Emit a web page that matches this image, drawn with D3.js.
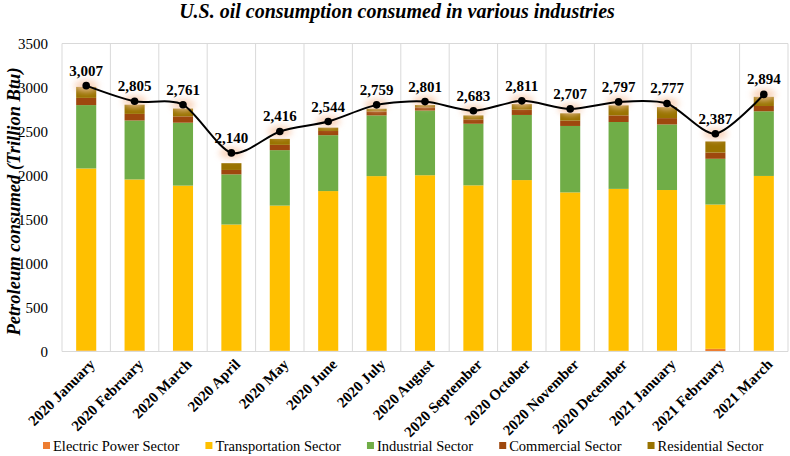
<!DOCTYPE html>
<html><head><meta charset="utf-8">
<script src="https://cdn.jsdelivr.net/npm/d3@7"></script>
<style>body{margin:0;background:#fff;} svg{display:block;} text{font-family:"Liberation Serif","DejaVu Serif",serif;}</style>
</head><body><svg id="c" width="790" height="456"></svg>
<script>
const categories = ["2020 January","2020 February","2020 March","2020 April","2020 May","2020 June","2020 July","2020 August","2020 September","2020 October","2020 November","2020 December","2021 January","2021 February","2021 March"];
const electric =       [10, 10, 10, 8, 8, 8, 8, 8, 8, 8, 8, 8, 10, 30, 10];
const transportation = [2070, 1945, 1875, 1435, 1650, 1815, 1985, 1995, 1880, 1940, 1800, 1840, 1825, 1640, 1985];
const industrial =     [720, 670, 715, 570, 630, 635, 690, 735, 700, 740, 755, 760, 745, 520, 735];
const commercial =     [82, 75, 72, 50, 60, 48, 45, 37, 50, 60, 60, 75, 72, 70, 60];
const residential =    [125, 105, 89, 77, 68, 38, 31, 26, 45, 63, 84, 114, 125, 127, 104];
const totals =         [3007, 2805, 2761, 2140, 2416, 2544, 2759, 2801, 2683, 2811, 2707, 2797, 2777, 2387, 2894];
const seriesNames = ["Electric Power Sector","Transportation Sector","Industrial Sector","Commercial Sector","Residential Sector"];
const seriesColors = ["#ED7D31","#FFC000","#70AD47","#9E480E","#997300"];
const yTicks = [0,500,1000,1500,2000,2500,3000,3500];

const FONT = "'Liberation Serif', 'DejaVu Serif', serif";
const svg = d3.select("#c");
const L = 62, R = 788, T = 43.5, B = 351.5;
const x = d3.scaleBand().domain(categories).range([L, R]).paddingInner(0.585).paddingOuter(0.2925);
const xc = d3.scaleBand().domain(categories).range([L, R]);
const y = d3.scaleLinear().domain([0, 3500]).range([B, T]);
const y2 = d3.scaleLinear().domain([-420, 3550]).range([B, T]);

// title
svg.append("text").attr("x", 397).attr("y", 18).attr("text-anchor","middle").attr("font-family", FONT)
  .style("font-size","20px").style("font-weight","bold").style("font-style","italic")
  .text("U.S. oil consumption consumed in various industries");

// gridlines
const g = svg.append("g");
g.selectAll("line.v").data(categories).join("line")
  .attr("x1", d => xc(d)).attr("x2", d => xc(d)).attr("y1", T).attr("y2", B)
  .attr("stroke", "#d9d9d9").attr("stroke-width", 1);
g.append("line").attr("x1", R).attr("x2", R).attr("y1", T).attr("y2", B).attr("stroke","#d9d9d9");
g.append("line").attr("x1", L).attr("x2", R).attr("y1", y(3500)).attr("y2", y(3500)).attr("stroke","#d9d9d9");

// y axis labels
svg.append("g").selectAll("text").data(yTicks).join("text").attr("font-family", FONT)
  .attr("x", 48).attr("y", d => y(d)).attr("dy","0.35em").attr("text-anchor","end")
  .style("font-size","15px").text(d => d);

svg.append("text").attr("transform", `translate(14,${(T+B)/2 + 4}) rotate(-90)`).attr("text-anchor","middle").attr("dy","0.35em").attr("font-family", FONT)
  .style("font-size","18.5px").style("font-weight","bold").style("font-style","italic")
  .text("Petroleum consumed (Trillion Btu)");

// stacked bars
const rows = categories.map((c,i) => ({cat:c, s0:electric[i], s1:transportation[i], s2:industrial[i], s3:commercial[i], s4:residential[i]}));
const stack = d3.stack().keys(["s0","s1","s2","s3","s4"])(rows);
const defs = svg.append("defs");
defs.append("filter").attr("id","glow").attr("x","-100%").attr("y","-100%").attr("width","300%").attr("height","300%")
  .append("feGaussianBlur").attr("stdDeviation", 3);

svg.append("g").selectAll("g").data(stack).join("g").attr("fill", (d,i) => seriesColors[i])
  .selectAll("rect").data(d => d).join("rect")
  .attr("x", d => x(d.data.cat)).attr("width", x.bandwidth())
  .attr("y", d => y(d[1])).attr("height", d => Math.max(0, y(d[0]) - y(d[1])));

// axis baseline
svg.append("line").attr("x1", L).attr("x2", R).attr("y1", B).attr("y2", B).attr("stroke","#d9d9d9");

// glow
svg.append("g").selectAll("ellipse").data(totals).join("ellipse")
  .attr("cx", (d,i) => x(categories[i]) + x.bandwidth()/2).attr("cy", (d,i) => y2(d))
  .attr("rx", 12).attr("ry", 6).attr("fill","#F8CBAD").attr("opacity",0.8).attr("filter","url(#glow)");

// line
const line = d3.line().x((d,i) => x(categories[i]) + x.bandwidth()/2).y(d => y2(d)).curve(d3.curveCardinal.tension(0.2));
svg.append("path").datum(totals).attr("d", line).attr("fill","none").attr("stroke","#000").attr("stroke-width",2);
svg.append("g").selectAll("circle").data(totals).join("circle")
  .attr("cx", (d,i) => x(categories[i]) + x.bandwidth()/2).attr("cy", d => y2(d)).attr("r", 3.8).attr("fill","#000");
svg.append("g").selectAll("text").data(totals).join("text").attr("font-family", FONT)
  .attr("x", (d,i) => x(categories[i]) + x.bandwidth()/2).attr("y", d => y2(d) - 10)
  .attr("text-anchor","middle").style("font-size","15px").style("font-weight","bold")
  .text(d => d3.format(",")(d));

// x labels
svg.append("g").selectAll("text").data(categories).join("text").attr("font-family", FONT)
  .attr("transform", d => `translate(${x(d) + x.bandwidth()/2 + 6},${B + 10}) rotate(-45)`)
  .attr("text-anchor","end").attr("dy","0.35em")
  .style("font-size","15px").style("font-weight","bold").text(d => d);

// legend
const lg = svg.append("g").attr("transform","translate(43,446)");
let lx = 0;
seriesNames.forEach((n,i) => {
  const it = lg.append("g").attr("transform", `translate(${lx},0)`);
  it.append("rect").attr("x",0).attr("y",-4).attr("width",7).attr("height",7).attr("fill",seriesColors[i]);
  const t = it.append("text").attr("font-family", FONT).attr("x",10).attr("y",0).attr("dy","0.35em").style("font-size","14.5px").text(n);
  lx += 10 + t.node().getComputedTextLength() + 26;
});
</script></body></html>
